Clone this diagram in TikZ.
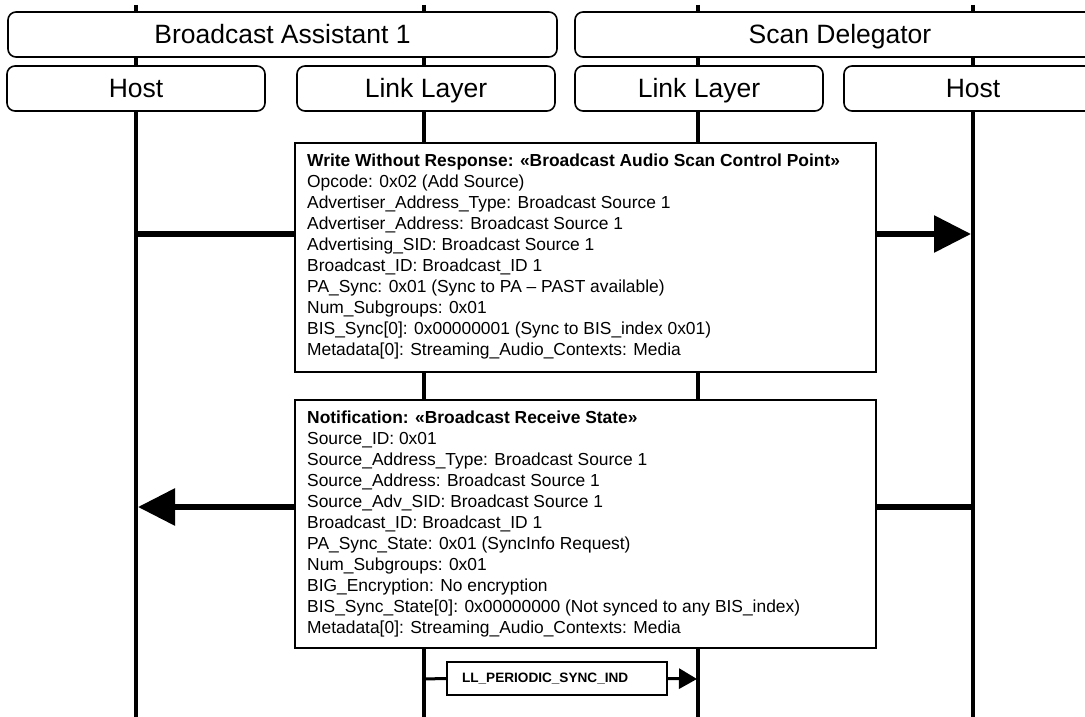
\documentclass[tikz,border=0pt]{standalone}
\usepackage{fontspec}
\setmainfont{Liberation Sans}
\usetikzlibrary{arrows.meta}
\begin{document}
\begin{tikzpicture}[x=1pt,y=-1pt,
  lifeline/.style={line width=4pt},
  hdr/.style={draw, line width=1.6pt, rounded corners=8pt, fill=white, inner sep=0pt,
    minimum height=45pt, text height=21.5pt, text depth=2.5pt,
    font=\fontsize{26.5}{30}\selectfont},
  msgbox/.style={draw, line width=2pt, fill=white, inner sep=0pt, minimum width=581pt},
  msgtext/.style={align=left, inner sep=0pt, font=\fontsize{17.4}{21}\selectfont},
  msgline/.style={line width=6pt},
  bighead/.style={-{Triangle[length=37pt,width=36pt]}},
  syncbox/.style={draw, line width=2pt, fill=white, inner xsep=15pt, inner ysep=0pt,
    minimum height=33pt, text width=190pt, align=left,
    font=\bfseries\fontsize{13.6}{16}\selectfont},
  syncline/.style={line width=3pt},
  smallhead/.style={-{Triangle[length=18pt,width=20pt]}}
]
\useasboundingbox (0,0) rectangle (1085,717);
% lifeline end points
\coordinate (hAt) at (136,5);   \coordinate (hAb) at (136,717);
\coordinate (lAt) at (423.5,5); \coordinate (lAb) at (423.5,717);
\coordinate (lBt) at (698,5);   \coordinate (lBb) at (698,717);
\coordinate (hBt) at (973,5);   \coordinate (hBb) at (973,717);
\draw[lifeline] (hAt) -- (hAb);
\draw[lifeline] (lAt) -- (lAb);
\draw[lifeline] (lBt) -- (lBb);
\draw[lifeline] (hBt) -- (hBb);
% headers
\node[hdr, minimum width=549pt] (ba) at (282.5,34.5) {Broadcast Assistant 1};
\node[hdr, minimum width=530pt] (sd) at (840,34.5) {Scan Delegator};
\node[hdr, minimum width=258pt] (hostA) at (136,88.5) {Host};
\node[hdr, minimum width=258pt] (llA) at (426,88.5) {Link Layer};
\node[hdr, minimum width=248pt] (llB) at (699,88.5) {Link Layer};
\node[hdr, minimum width=258pt] (hostB) at (973,88.5) {Host};
% message 1
\node[msgbox, minimum height=229pt, anchor=north west] (m1) at (294,142) {};
\node[msgtext, anchor=north west] (m1t) at (307,153.5) {%
\textbf{Write Without Response: «Broadcast Audio Scan Control Point»}\\
Opcode: 0x02 (Add Source)\\
Advertiser\_Address\_Type: Broadcast Source 1\\
Advertiser\_Address: Broadcast Source 1\\
Advertising\_SID: Broadcast Source 1\\
Broadcast\_ID: Broadcast\_ID 1\\
PA\_Sync: 0x01 (Sync to PA -- PAST available)\\
Num\_Subgroups: 0x01\\
BIS\_Sync[0]: 0x00000001 (Sync to BIS\_index 0x01)\\
Metadata[0]: Streaming\_Audio\_Contexts: Media};
\coordinate (a1s) at (136,234);
\coordinate (a1e) at (971,234);
\draw[msgline] (a1s) -- (m1.west |- a1s);
\draw[msgline, bighead] (m1.east |- a1e) -- (a1e);
% message 2
\node[msgbox, minimum height=248pt, anchor=north west] (m2) at (294,399) {};
\node[msgtext, anchor=north west] (m2t) at (307,410.5) {%
\textbf{Notification: «Broadcast Receive State»}\\
Source\_ID: 0x01\\
Source\_Address\_Type: Broadcast Source 1\\
Source\_Address: Broadcast Source 1\\
Source\_Adv\_SID: Broadcast Source 1\\
Broadcast\_ID: Broadcast\_ID 1\\
PA\_Sync\_State: 0x01 (SyncInfo Request)\\
Num\_Subgroups: 0x01\\
BIG\_Encryption: No encryption\\
BIS\_Sync\_State[0]: 0x00000000 (Not synced to any BIS\_index)\\
Metadata[0]: Streaming\_Audio\_Contexts: Media};
\coordinate (a2s) at (973,507);
\coordinate (a2e) at (138,507);
\draw[msgline] (a2s) -- (m2.east |- a2s);
\draw[msgline, bighead] (m2.west |- a2e) -- (a2e);
% sync ind
\node[syncbox] (sy) at (557,678.5) {LL\_PERIODIC\_SYNC\_IND};
\coordinate (s1) at (423.5,679);
\coordinate (s2) at (697,679);
\draw[syncline] (s1) -- (sy.west);
\draw[syncline, smallhead] (sy.east) -- (s2);
\end{tikzpicture}
\end{document}
